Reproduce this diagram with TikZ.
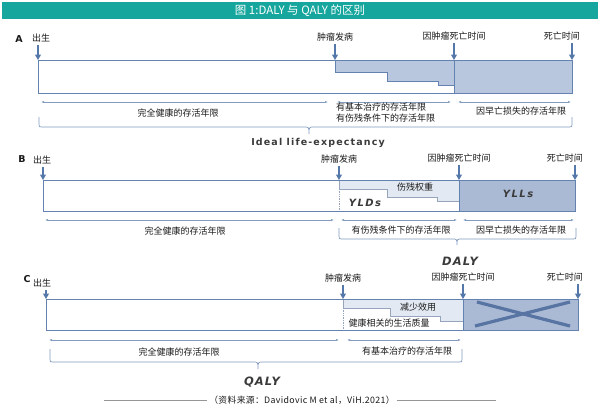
\documentclass[tikz,border=0pt]{standalone}
\usepackage{fontspec}
\setmainfont{Noto Sans CJK SC}
\newfontfamily\dvs{DejaVu Sans}
\usetikzlibrary{arrows.meta}
\definecolor{teal1}{RGB}{22,166,157}
\definecolor{bline}{RGB}{100,130,175}
\definecolor{afill}{RGB}{185,199,222}
\definecolor{yllfill}{RGB}{170,186,213}
\definecolor{yldfill}{RGB}{226,233,242}
\definecolor{stepline}{RGB}{150,165,188}
\definecolor{dimc}{RGB}{130,155,190}
\definecolor{arrc}{RGB}{85,120,170}
\definecolor{txt}{RGB}{25,25,25}
\definecolor{xcol}{RGB}{88,116,163}
\definecolor{srcline}{RGB}{150,150,150}
\tikzset{
 lbl/.style={font=\fontsize{9}{11}\selectfont, text=txt, inner sep=0pt},
 boxl/.style={draw=bline, line width=0.9pt},
 stepl/.style={draw=stepline, line width=0.7pt},
 downarr/.style={draw=arrc, line width=1.1pt, -{Triangle[length=5.5pt,width=6pt]}, shorten <=3pt},
 dimline/.style={draw=dimc, line width=0.6pt, {Latex[length=3pt,width=2.2pt]}-{Latex[length=3pt,width=2.2pt]}},
 bracel/.style={draw=dimc, line width=0.7pt},
 panellbl/.style={font=\dvs\bfseries\fontsize{9.5}{10}\selectfont, text=txt, inner sep=0pt},
 bigital/.style={font=\dvs\bfseries\itshape\fontsize{11.5}{12}\selectfont\addfontfeatures{LetterSpace=10}, text=txt!85, inner sep=0pt},
 smital/.style={font=\dvs\bfseries\itshape\fontsize{10}{11}\selectfont\addfontfeatures{LetterSpace=15}, text=txt!85, inner sep=0pt},
}
\newcommand\drawbrace[6]{%
 \draw[bracel] (#1,#3) -- (#1,#4-3) .. controls (#1,#4) .. (#1+3,#4) -- (#5-5,#4)
   .. controls (#5,#4) .. (#5,#6) .. controls (#5,#4) .. (#5+5,#4) -- (#2-3,#4)
   .. controls (#2,#4) .. (#2,#4-3) -- (#2,#3);}
\begin{document}
\begin{tikzpicture}[x=1pt,y=-1pt]
\path[use as bounding box, fill=white] (0,0) rectangle (600,413);
% title
\fill[teal1] (2,2) rectangle (598,19);
\node[font=\fontsize{11.5}{12}\selectfont, text=white, inner sep=0pt] (title) at (300,10.5) {图 1:DALY 与 QALY 的区别};

% ================= Panel A
\node[panellbl] (Alab) at (19,39) {A};
\node[lbl] (A0) at (41,38) {出生};
\node[lbl] (A1) at (335,37) {肿瘤发病};
\node[lbl] (A2) at (454,36) {因肿瘤死亡时间};
\node[lbl, anchor=east] (A3) at (580,36) {死亡时间};
\coordinate (a0) at (38,60);
\coordinate (a1) at (335,60);
\coordinate (a2) at (454,60);
\coordinate (a3) at (572,60);
\fill[afill] (335,60) -- (572,60) -- (572,93) -- (454,93) -- (454,85) -- (438,85) -- (438,81) -- (387,81) -- (387,72) -- (335,72) -- cycle;
\draw[boxl] (38,60) rectangle (572,93);
\draw[boxl] (335,60) -- (335,72) -- (387,72) -- (387,81) -- (438,81) -- (438,85) -- (454,85);
\draw[boxl] (454,60) -- (454,93);
\draw[downarr] (A0.south -| a0) -- (a0);
\draw[downarr] (A1.south -| a1) -- (a1);
\draw[downarr] (A2.south -| a2) -- (a2);
\draw[downarr] (A3.south -| a3) -- (a3);
\draw[dimline] (41,102) -- (328,102);
\draw[dimline] (337,102) -- (451,102);
\draw[dimline] (458,102) -- (571,102);
\node[lbl] (At1) at (178,113) {完全健康的存活年限};
\node[lbl, anchor=west, align=left] (At2) at (336,113) {有基本治疗的存活年限\\有伤残条件下的存活年限};
\node[lbl] (At3) at (521,111) {因早亡损失的存活年限};
\drawbrace{39}{572}{117}{127}{309}{134}
\node[font=\dvs\bfseries\fontsize{9.5}{10}\selectfont\addfontfeatures{LetterSpace=12}, text=txt!85, inner sep=0pt] (ideal) at (318,143) {Ideal life-expectancy};

% ================= Panel B
\node[panellbl] (Blab) at (22,159) {B};
\node[lbl] (B0) at (42,160) {出生};
\node[lbl] (B1) at (339,159) {肿瘤发病};
\node[lbl] (B2) at (459,158) {因肿瘤死亡时间};
\node[lbl, anchor=east] (B3) at (583,158) {死亡时间};
\coordinate (b0) at (43,180);
\coordinate (b1) at (339,180);
\coordinate (b2) at (459,180);
\coordinate (b3) at (575,180);
\fill[yldfill] (339,180) -- (459,180) -- (459,201) -- (437,201) -- (437,197) -- (387,197) -- (387,189) -- (339,189) -- cycle;
\fill[yllfill] (459,180) rectangle (575,211);
\draw[stepl] (339,180) -- (339,189) -- (387,189) -- (387,197) -- (437,197) -- (437,201) -- (459,201);
\draw[stepl, densely dotted] (339,189) -- (339,211);
\draw[boxl] (43,180) rectangle (575,211);
\draw[boxl] (459,180) -- (459,211);
\draw[downarr] (B0.south -| b0) -- (b0);
\draw[downarr] (B1.south -| b1) -- (b1);
\draw[downarr] (B2.south -| b2) -- (b2);
\draw[downarr] (B3.south -| b3) -- (b3);
\node[lbl] (Bw) at (415,187) {伤残权重};
\node[smital] (yld) at (365,203) {YLDs};
\node[smital] (yll) at (518,194) {YLLs};
\draw[dimline] (45,220) -- (334,220);
\draw[dimline] (341,220) -- (457,220);
\draw[dimline] (463,220) -- (574,220);
\node[lbl] (Bt1) at (185,231) {完全健康的存活年限};
\node[lbl] (Bt2) at (401,230) {有伤残条件下的存活年限};
\node[lbl] (Bt3) at (521,230) {因早亡损失的存活年限};
\drawbrace{339}{576}{228}{239}{457}{245}
\node[bigital] (daly) at (460,261) {DALY};

% ================= Panel C
\node[panellbl] (Clab) at (27,279) {C};
\node[lbl] (C0) at (42,283) {出生};
\node[lbl] (C1) at (343,278) {肿瘤发病};
\node[lbl] (C2) at (463,277) {因肿瘤死亡时间};
\node[lbl, anchor=east] (C3) at (583,277) {死亡时间};
\coordinate (c0) at (46,299);
\coordinate (c1) at (343,299);
\coordinate (c2) at (463,299);
\coordinate (c3) at (578,299);
\fill[yldfill] (343,299) -- (463,299) -- (463,321) -- (440,321) -- (440,316) -- (390,316) -- (390,308) -- (343,308) -- cycle;
\fill[yllfill] (463,299) rectangle (578,330);
\draw[stepl] (343,299) -- (343,308) -- (390,308) -- (390,316) -- (440,316) -- (440,321) -- (463,321);
\draw[stepl, densely dotted] (343,308) -- (343,330);
\draw[boxl] (46,299) rectangle (578,330);
\draw[boxl] (463,299) -- (463,330);
\draw[xcol, line width=3.2pt] (477,302) -- (570,326);
\draw[xcol, line width=3.2pt] (475,326) -- (570,302);
\draw[downarr] (C0.south -| c0) -- (c0);
\draw[downarr] (C1.south -| c1) -- (c1);
\draw[downarr] (C2.south -| c2) -- (c2);
\draw[downarr] (C3.south -| c3) -- (c3);
\node[lbl] (Cw) at (418,307) {减少效用};
\node[lbl] (Cq) at (389,323) {健康相关的生活质量};
\draw[dimline] (49,340) -- (339,340);
\draw[dimline] (347,340) -- (461,340);
\node[lbl] (Ct1) at (179,352) {完全健康的存活年限};
\node[lbl] (Ct2) at (407,351) {有基本治疗的存活年限};
\drawbrace{50}{462}{349}{362}{258}{369}
\node[bigital] (qaly) at (262,382) {QALY};

% source
\node[font=\fontsize{8.8}{10}\selectfont\addfontfeatures{LetterSpace=4}, text=txt, inner sep=2pt] (src) at (302,400) {（资料来源：Davidovic M et al，ViH.2021）};
\coordinate (sl) at (104,400);
\coordinate (sr) at (496,400);
\draw[srcline, line width=0.9pt] (sl) -- (src.west);
\draw[srcline, line width=0.9pt] (src.east) -- (sr);
\end{tikzpicture}
\end{document}
